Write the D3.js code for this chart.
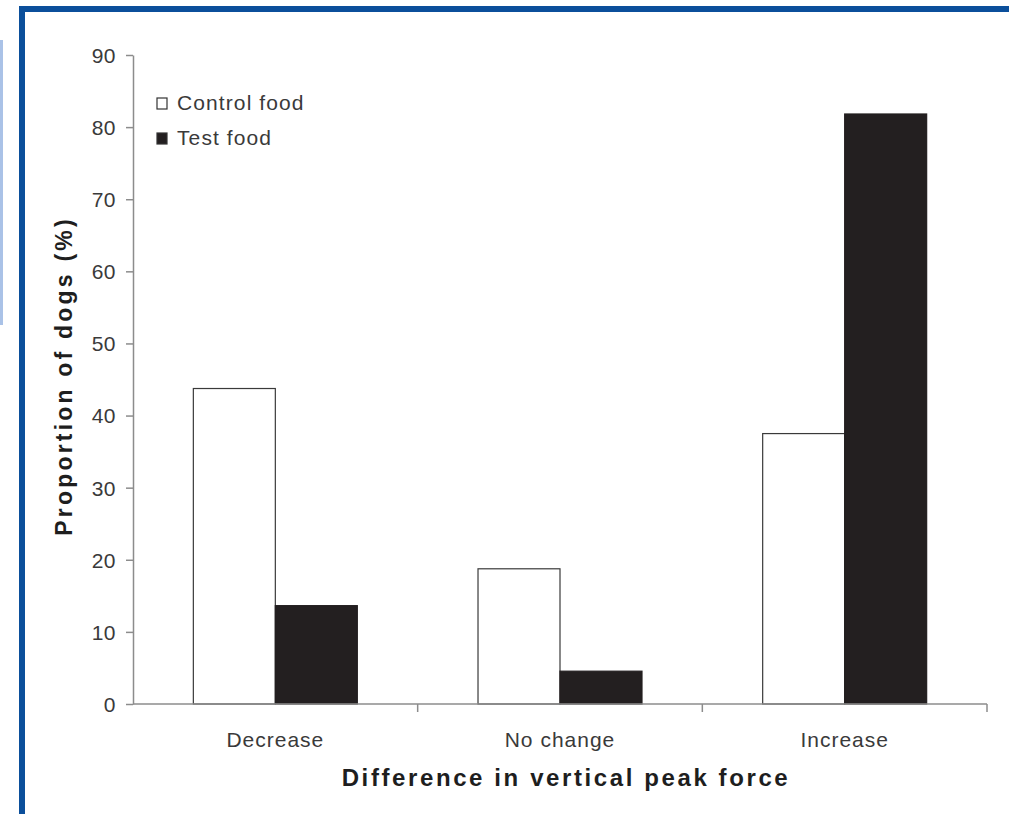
<!DOCTYPE html>
<html>
<head>
<meta charset="utf-8">
<script src="https://cdn.jsdelivr.net/npm/d3@7"></script>
<style>
  html, body { margin: 0; padding: 0; background: #fff; }
  svg { display: block; }
  text { font-family: "Liberation Sans", Arial, Helvetica, sans-serif; }
</style>
</head>
<body>
<svg id="chart" width="1009" height="814"></svg>
<script>
// ---- data ----
const categories = ["Decrease", "No change", "Increase"];
const seriesNames = ["Control food", "Test food"];
const controlValues = [43.75, 18.75, 37.5];
const testValues = [13.64, 4.55, 81.82];
const yTicks = [0, 10, 20, 30, 40, 50, 60, 70, 80, 90];
const xTitle = "Difference in vertical peak force";
const yTitle = "Proportion of dogs (%)";

const seriesValues = [controlValues, testValues];
const seriesFill = ["#ffffff", "#231f20"];

const svg = d3.select("#chart");

// frame decoration
svg.append("rect").attr("x", 0).attr("y", 40).attr("width", 3).attr("height", 285).attr("fill", "#aac2e7");
svg.append("rect").attr("x", 19).attr("y", 6).attr("width", 990).attr("height", 6).attr("fill", "#0b4f9b");
svg.append("rect").attr("x", 19).attr("y", 6).attr("width", 6).attr("height", 808).attr("fill", "#0b4f9b");

const x0 = 133, x1 = 987, yTop = 55, yBottom = 704;

const x = d3.scaleBand().domain(categories).range([x0, x1]).paddingInner(0).paddingOuter(0);
const xs = d3.scaleBand().domain(seriesNames).range([0, x.bandwidth()]).paddingInner(0).paddingOuter(0.736);
const y = d3.scaleLinear().domain([0, 90]).range([yBottom, yTop]);

const axisColor = "#8c8c8c";

// bars
const rows = categories.map((c, i) => seriesNames.map((s, j) => ({cat: c, series: s, value: seriesValues[j][i], j})));
svg.append("g").selectAll("g").data(rows).join("g")
  .selectAll("rect").data(d => d).join("rect")
  .attr("x", d => x(d.cat) + xs(d.series))
  .attr("y", d => y(d.value))
  .attr("width", xs.bandwidth())
  .attr("height", d => y(0) - y(d.value))
  .attr("fill", d => seriesFill[d.j])
  .attr("stroke", d => d.j === 0 ? "#3a3a3a" : "#231f20")
  .attr("stroke-width", 1.2);

// y axis
const yAxis = svg.append("g").attr("transform", `translate(${x0},0)`)
  .call(d3.axisLeft(y).tickValues(yTicks).tickSize(7).tickSizeOuter(0).tickPadding(10));
yAxis.select(".domain").attr("stroke", axisColor).attr("stroke-width", 1.5);
yAxis.selectAll(".tick line").attr("stroke", axisColor).attr("stroke-width", 1.5);
yAxis.selectAll(".tick text").attr("fill", "#3a3a3a").style("font-size", "21px").style("letter-spacing", "0.5px")
  .attr("dy", "0.35em");

// x axis
const xAxisG = svg.append("g").attr("transform", `translate(0,${yBottom})`);
xAxisG.append("line").attr("x1", x0).attr("x2", x1).attr("y1", 0).attr("y2", 0)
  .attr("stroke", axisColor).attr("stroke-width", 1.5);
xAxisG.selectAll("line.tk").data(categories).join("line").attr("class", "tk")
  .attr("x1", d => x(d) + x.bandwidth()).attr("x2", d => x(d) + x.bandwidth())
  .attr("y1", 0).attr("y2", 8).attr("stroke", axisColor).attr("stroke-width", 1.5);
xAxisG.selectAll("text.cat").data(categories).join("text").attr("class", "cat")
  .attr("x", d => x(d) + x.bandwidth() / 2).attr("y", 43)
  .attr("text-anchor", "middle").attr("fill", "#3a3a3a")
  .style("font-size", "21px").style("letter-spacing", "1px")
  .text(d => d);

// axis titles
svg.append("text").attr("x", 566).attr("y", 786).attr("text-anchor", "middle")
  .attr("fill", "#1e1e1e").style("font-size", "24px").style("font-weight", "bold").style("letter-spacing", "2.6px")
  .text(xTitle);
svg.append("text").attr("transform", "translate(72,376) rotate(-90)").attr("text-anchor", "middle")
  .attr("fill", "#1e1e1e").style("font-size", "23px").style("font-weight", "bold").style("letter-spacing", "3.2px")
  .text(yTitle);

// legend
const legend = svg.append("g").selectAll("g").data(seriesNames).join("g")
  .attr("transform", (d, i) => `translate(157,${98 + i * 35})`);
legend.append("rect").attr("x", 0).attr("y", 0).attr("width", 10).attr("height", 11)
  .attr("fill", (d, i) => seriesFill[i]).attr("stroke", "#333").attr("stroke-width", 1.2);
legend.append("text").attr("x", 20).attr("y", 12).attr("fill", "#3a3a3a")
  .style("font-size", "21px").style("letter-spacing", "1.1px")
  .text(d => d);
</script>
</body>
</html>
